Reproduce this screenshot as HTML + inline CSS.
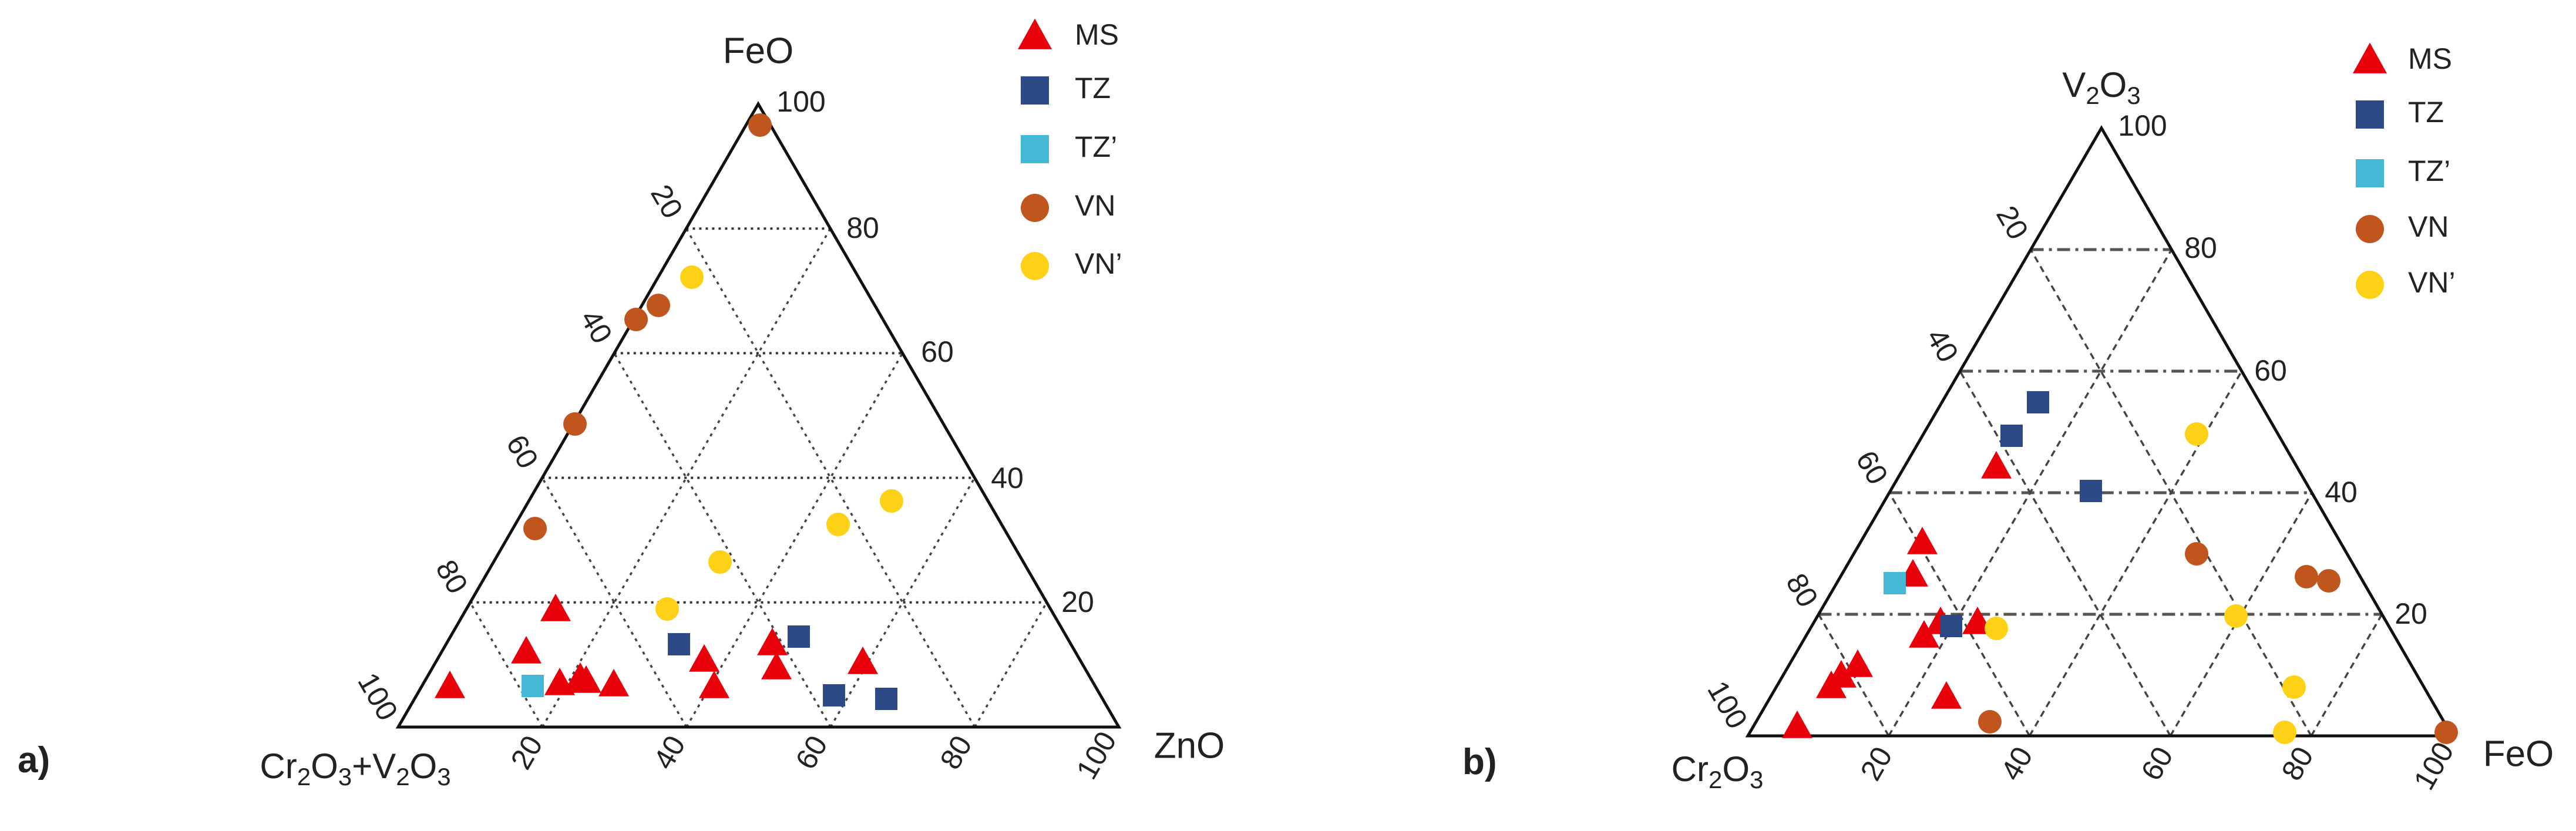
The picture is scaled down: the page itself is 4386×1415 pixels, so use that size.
<!DOCTYPE html>
<html><head><meta charset="utf-8">
<style>
html,body{margin:0;padding:0;background:#fff;}
svg{display:block;}
text{font-family:"Liberation Sans",Arial,sans-serif;fill:#222;}
</style></head>
<body>
<svg id="s" width="4386" height="1415" viewBox="0 0 4386 1415" xmlns="http://www.w3.org/2000/svg">
<rect width="4386" height="1415" fill="#fff"/>
<g id="g"></g>
</svg>
<script>
const NS="http://www.w3.org/2000/svg";
const g=document.getElementById('g');
function el(t,a,txt){const e=document.createElementNS(NS,t);for(const k in a)e.setAttribute(k,a[k]);if(txt!==undefined)e.textContent=txt;g.appendChild(e);return e;}
const RED="#e8000b",NAVY="#2e4a86",CYAN="#44b8d4",BROWN="#c0561e",YEL="#fcd116";
function tri(x,y,w){const h=w*0.9;el('polygon',{points:`${x},${y-h*0.6} ${x-w/2},${y+h*0.4} ${x+w/2},${y+h*0.4}`,fill:RED});}
function sq(x,y,s,c){el('rect',{x:x-s/2,y:y-s/2,width:s,height:s,fill:c});}
function ci(x,y,r,c){el('circle',{cx:x,cy:y,r:r,fill:c});}
function panel(A,L,R,style){
  const lerp=(p,q,f)=>[p[0]+(q[0]-p[0])*f,p[1]+(q[1]-p[1])*f];
  for(let i=1;i<5;i++){
    const f=i/5;
    const a=lerp(L,A,f),b=lerp(R,A,f);
    el('line',Object.assign({x1:a[0],y1:a[1],x2:b[0],y2:b[1]},style.h));
    const c=lerp(L,R,f),d=lerp(R,A,1-f);
    el('line',Object.assign({x1:c[0],y1:c[1],x2:d[0],y2:d[1]},style.d));
    const e=lerp(L,R,f),h=lerp(L,A,f);
    el('line',Object.assign({x1:e[0],y1:e[1],x2:h[0],y2:h[1]},style.d));
  }
  el('polygon',{points:`${A} ${L} ${R}`,fill:'none',stroke:'#111','stroke-width':5,'stroke-linejoin':'miter'});
}
const dotH={stroke:'#333','stroke-width':4,'stroke-dasharray':'4 7'};
const dashD={stroke:'#444','stroke-width':3.5,'stroke-dasharray':'11 8'};
panel([1291,177],[678,1238],[1905,1238],{h:dotH,d:{stroke:'#444','stroke-width':3.5,'stroke-dasharray':'5 8'}});
panel([3578,218],[2976,1253],[4175,1253],{h:{stroke:'#555','stroke-width':5,'stroke-dasharray':'22 9 5 9'},d:dashD});

function T(x,y,s,rot,fs,anchor){const a={x:x,y:y,'font-size':fs||50,'text-anchor':anchor||'middle','dominant-baseline':'middle'};if(rot)a.transform=`rotate(${rot} ${x} ${y})`;return el('text',a,s);}
[["100",1364,177],["80",1469,392],["60",1596,603],["40",1715,818],["20",1835,1029]].forEach(v=>T(v[1],v[2],v[0]));
[["20",1132,345],["40",1012,558],["60",886,771],["80",766,984],["100",640,1188]].forEach(v=>T(v[1],v[2],v[0],60));
[["20",900,1283],["40",1143,1283],["60",1385,1283],["80",1631,1283],["100",1870,1288]].forEach(v=>T(v[1],v[2],v[0],-60));
T(1291,91,"FeO",0,62);
T(2025,1274,"ZnO",0,62);
(function(){const t=el('text',{x:605,y:1325,'font-size':60,'text-anchor':'middle'});t.innerHTML='Cr<tspan font-size="42" dy="12">2</tspan><tspan dy="-12">O</tspan><tspan font-size="42" dy="12">3</tspan><tspan dy="-12">+V</tspan><tspan font-size="42" dy="12">2</tspan><tspan dy="-12">O</tspan><tspan font-size="42" dy="12">3</tspan>';})();
el('text',{x:30,y:1315,'font-size':62,'font-weight':'bold'},'a)');
[["100",3648,218],["80",3747,426],["60",3866,635],["40",3986,842],["20",4105,1049]].forEach(v=>T(v[1],v[2],v[0]));
[["20",3423,381],["40",3304,590],["60",3184,798],["80",3065,1007],["100",2938,1202]].forEach(v=>T(v[1],v[2],v[0],60));
[["20",3198,1302],["40",3437,1302],["60",3676,1302],["80",3915,1302],["100",4147,1306]].forEach(v=>T(v[1],v[2],v[0],-60));
T(4288,1288,"FeO",0,62);
(function(){let t=el('text',{x:3578,y:165,'font-size':60,'text-anchor':'middle'});t.innerHTML='V<tspan font-size="42" dy="12">2</tspan><tspan dy="-12">O</tspan><tspan font-size="42" dy="12">3</tspan>';
t=el('text',{x:2924,y:1330,'font-size':60,'text-anchor':'middle'});t.innerHTML='Cr<tspan font-size="42" dy="12">2</tspan><tspan dy="-12">O</tspan><tspan font-size="42" dy="12">3</tspan>';})();
el('text',{x:2490,y:1318,'font-size':62,'font-weight':'bold'},'b)');

const M=52,S=38,C=20;
[[1294,213],[1121,520],[1083,544],[979,722],[911,900]].forEach(p=>ci(p[0],p[1],C,BROWN));
[[1178,472],[1518,853],[1427,893],[1226,957],[1136,1037]].forEach(p=>ci(p[0],p[1],C,YEL));
[[946,1039],[896,1111],[766,1170],[953,1165],[988,1156],[998,1161],[1045,1167],[1199,1125],[1216,1170],[1315,1097],[1322,1138],[1469,1129]].forEach(p=>tri(p[0],p[1],M));
[[1156,1097],[1360,1084],[1420,1184],[1509,1190]].forEach(p=>sq(p[0],p[1],S,NAVY));
sq(907,1168,S,CYAN);
[[3470,685],[3425,742],[3560,836]].forEach(p=>sq(p[0],p[1],S,NAVY));
[[3399,796],[3273,925],[3257,980],[3276,1084],[3304,1061],[3367,1061],[3163,1134],[3135,1152],[3118,1170],[3314,1188],[3060,1238]].forEach(p=>tri(p[0],p[1],M));
sq(3322,1066,S,NAVY);
sq(3226,993,S,CYAN);
[[3740,943],[3927,982],[3965,989],[3388,1229],[4165,1247]].forEach(p=>ci(p[0],p[1],C,BROWN));
[[3740,739],[3807,1049],[3399,1070],[3906,1170],[3890,1247]].forEach(p=>ci(p[0],p[1],C,YEL));

function legend(x,tx,ys){
  tri(x,ys[0],58);sq(x,ys[1],48,NAVY);sq(x,ys[2],48,CYAN);ci(x,ys[3],24,BROWN);ci(x,ys[4],24,YEL);
  ["MS","TZ","TZ’","VN","VN’"].forEach((s,i)=>T(tx,ys[i],s,0,50,'start'));
}
legend(1762,1830,[63,154,254,354,453]);
legend(4035,4100,[104,195,295,390,485]);
</script>
</body></html>
